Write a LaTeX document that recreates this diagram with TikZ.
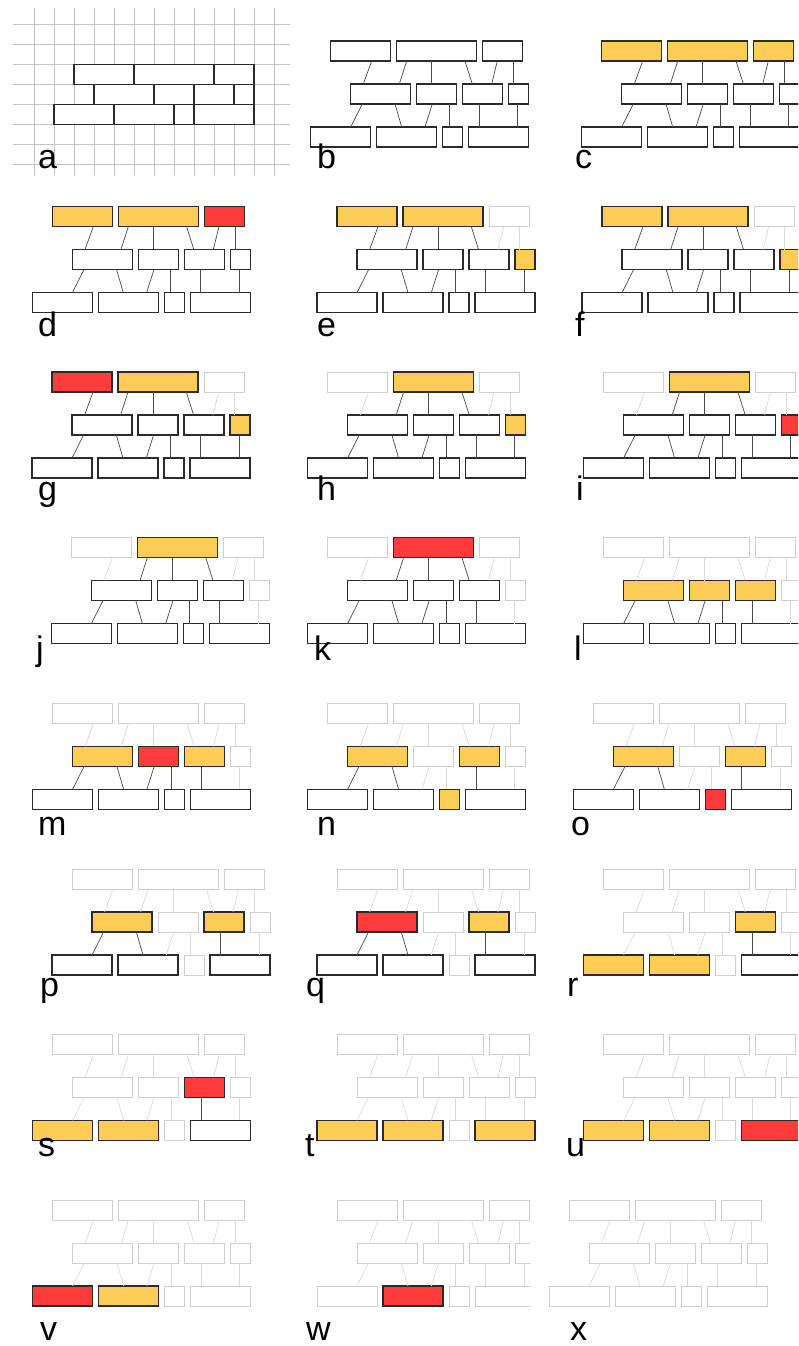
\documentclass[tikz,border=0pt]{standalone}
\usepackage{fontspec}
\newfontfamily\labelfont{Liberation Sans}
\usetikzlibrary{calc}

\definecolor{brickline}{HTML}{2B2B2B}
\definecolor{brickyellow}{HTML}{FFCC55}
\definecolor{brickred}{HTML}{FF3B3B}
\definecolor{gonegray}{HTML}{CFCFCF}
\definecolor{linkdark}{HTML}{4A4A4A}
\definecolor{linkgone}{HTML}{DADADA}
\definecolor{gridgray}{HTML}{C4C4C4}

\tikzset{
  brick/.style={draw=brickline, fill=white, line width=1.5pt, minimum height=20pt, inner sep=0pt, outer sep=0pt, anchor=north west},
  link/.style={draw=linkdark, line width=0.7pt},
  gridline/.style={draw=gridgray, line width=0.8pt},
  tag/.style={font=\labelfont\fontsize{34}{34}\selectfont, inner sep=0pt, anchor=base west},
  % state of a brick, and of the links hanging from it
  st plain/.style={}, st plain link/.style={},
  st ready/.style={fill=brickyellow}, st ready link/.style={},
  st pick/.style={fill=brickred}, st pick link/.style={},
  st done/.style={draw=gonegray, line width=1pt}, st done link/.style={draw=linkgone},
  paint/.style 2 args={#1/.style={st #2}, #1 link/.style={st #2 link}},
  plain/.style={paint={#1}{plain}},
  ready/.style={paint={#1}{ready}},
  pick/.style={paint={#1}{pick}},
  done/.style={paint={#1}{done}},
  plain/.list={T1,T2,T3,M1,M2,M3,M4,B1,B2,B3,B4},
}

% name / grid start / grid width / index in row / row
\newcommand{\bricklist}{T1/2/3/0/0, T2/5/4/1/0, T3/9/2/2/0,
  M1/3/3/0/1, M2/6/2/1/1, M3/8/2/2/1, M4/10/1/3/1,
  B1/1/3/0/2, B2/4/3/1/2, B3/7/1/2/2, B4/8/3/3/2}

% #1 prefix, #2 x, #3 y, #4 brick states
\newcommand{\brickpanel}[4]{%
  \begin{scope}[shift={(#2,#3)}, #4]
    \foreach \bk/\gx/\gw/\gi/\gr in \bricklist
      \node[brick, minimum width=20*\gw pt, \bk] (#1\bk) at ({20*(\gx-2)+6*\gi},{43*\gr}) {};
    \foreach \up/\ux/\lo/\lx in {T1/41/M1/12.6, T2/10/M1/48.6, T2/35/M2/15, T2/68.3/M3/9.6,
        T3/14.6/M3/29, T3/30.6/M4/4.6, M1/11.6/B1/40, M1/44.3/B2/25,
        M2/15.6/B2/48.3, M2/32.3/B3/6.3, M3/16.3/B4/10.3, M4/9/B4/49}
      \draw[link, \up\space link] ([xshift=\ux pt]#1\up.south west) -- ([xshift=\lx pt]#1\lo.north west);
  \end{scope}}

\begin{document}
\begin{tikzpicture}[x=1pt, y=-1pt]
    \useasboundingbox (0,0) rectangle (798,1346);
    \clip (0,0) rectangle (798,1346);

    % a: the wall on its grid
    \foreach \k in {0,...,12}
      \draw[gridline] ({34+20*\k},8.3) -- ({34+20*\k},175);
    \foreach \k in {0,...,7}
      \draw[gridline] (12.7,{24.3+20*\k}) -- (290,{24.3+20*\k});
    \begin{scope}[shift={(74,64.3)}]
      \foreach \bk/\gx/\gw/\gi/\gr in \bricklist
        \node[brick, minimum width=20*\gw pt] (a-\bk) at ({20*(\gx-2)},{20*\gr}) {};
    \end{scope}

    % b - c
    \brickpanel{b-}{330.7}{41}{}
    \brickpanel{c-}{601.7}{41}{ready/.list={T1,T2,T3}}
    % d - f
    \brickpanel{d-}{52.3}{206.7}{ready/.list={T1,T2}, pick=T3}
    \brickpanel{e-}{337}{206.7}{ready/.list={T1,T2,M4}, done=T3}
    \brickpanel{f-}{602}{206.7}{ready/.list={T1,T2,M4}, done=T3}
    % g - i
    \brickpanel{g-}{52}{372}{pick=T1, ready/.list={T2,M4}, done=T3}
    \brickpanel{h-}{327.6}{372}{done/.list={T1,T3}, ready/.list={T2,M4}}
    \brickpanel{i-}{603.6}{372}{done/.list={T1,T3}, ready=T2, pick=M4}
    % j - l
    \brickpanel{j-}{71.4}{537.5}{done/.list={T1,T3,M4}, ready=T2}
    \brickpanel{k-}{327.6}{537.5}{done/.list={T1,T3,M4}, pick=T2}
    \brickpanel{l-}{603.6}{537.5}{done/.list={T1,T2,T3,M4}, ready/.list={M1,M2,M3}}
    % m - o
    \brickpanel{m-}{52.6}{703.3}{done/.list={T1,T2,T3,M4}, ready/.list={M1,M3}, pick=M2}
    \brickpanel{n-}{327.6}{703.3}{done/.list={T1,T2,T3,M2,M4}, ready/.list={M1,M3,B3}}
    \brickpanel{o-}{593.4}{703.3}{done/.list={T1,T2,T3,M2,M4}, ready/.list={M1,M3}, pick=B3}
    % p - r
    \brickpanel{p-}{72}{869}{done/.list={T1,T2,T3,M2,M4,B3}, ready/.list={M1,M3}}
    \brickpanel{q-}{337}{869}{done/.list={T1,T2,T3,M2,M4,B3}, pick=M1, ready=M3}
    \brickpanel{r-}{603.6}{869}{done/.list={T1,T2,T3,M1,M2,M4,B3}, ready/.list={M3,B1,B2}}
    % s - u
    \brickpanel{s-}{52.6}{1034.3}{done/.list={T1,T2,T3,M1,M2,M4,B3}, pick=M3, ready/.list={B1,B2}}
    \brickpanel{t-}{337}{1034.3}{done/.list={T1,T2,T3,M1,M2,M3,M4,B3}, ready/.list={B1,B2,B4}}
    \brickpanel{u-}{603.6}{1034.3}{done/.list={T1,T2,T3,M1,M2,M3,M4,B3}, ready/.list={B1,B2}, pick=B4}
    % v - x
    \brickpanel{v-}{52.6}{1200}{done/.list={T1,T2,T3,M1,M2,M3,M4,B3,B4}, pick=B1, ready=B2}
    \begin{scope}
      \clip (300,1180) rectangle (530,1346);
      \brickpanel{w-}{337}{1200}{done/.list={T1,T2,T3,M1,M2,M3,M4,B1,B3,B4}, pick=B2}
    \end{scope}
    \brickpanel{x-}{569}{1200}{done/.list={T1,T2,T3,M1,M2,M3,M4,B1,B2,B3,B4}}

    % panel letters
    \foreach \t/\x/\y in {a/38/168, b/317/168, c/575/168, d/38/336.5, e/317/336.5, f/575/336.5,
        g/38/500.5, h/317/500.5, i/576/500.5, j/36/660, k/314/660, l/574/660,
        m/38/835, n/317/835, o/571/835, p/40/996, q/306/996, r/567/996,
        s/38/1156.5, t/305/1156.5, u/566/1156.5, v/40/1340, w/306/1340, x/570/1340}
      \node[tag] (lab-\t) at (\x,\y) {\t};
\end{tikzpicture}
\end{document}
